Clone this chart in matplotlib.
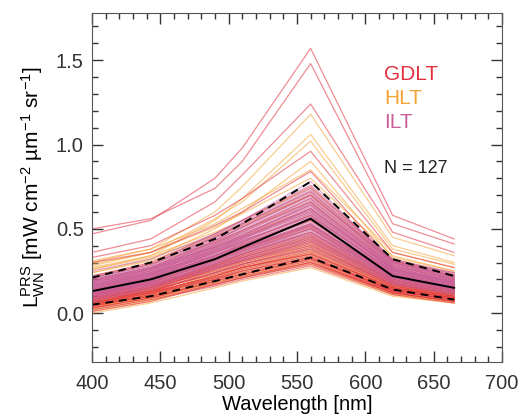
import numpy as np
import matplotlib
matplotlib.use('Agg')
import matplotlib.pyplot as plt
from matplotlib.ticker import MultipleLocator

# ---------------------------------- data ----------------------------------- #
wavelength = [400, 443, 490, 510, 560, 620, 665]

# GDLT spectra (red)
gdlt = [
    [0.47, 0.55, 0.80, 0.98, 1.57, 0.58, 0.44],
    [0.50, 0.56, 0.74, 0.90, 1.48, 0.53, 0.41],
    [0.36, 0.44, 0.66, 0.82, 1.24, 0.48, 0.36],
    [0.33, 0.40, 0.58, 0.68, 0.96, 0.36, 0.27],
    [0.30, 0.36, 0.52, 0.60, 0.84, 0.31, 0.24],
    [0.02, 0.08, 0.16, 0.20, 0.28, 0.11, 0.06],
    [0.03, 0.09, 0.17, 0.21, 0.29, 0.12, 0.07],
    [0.05, 0.10, 0.18, 0.22, 0.30, 0.12, 0.07],
    [0.01, 0.07, 0.17, 0.21, 0.30, 0.13, 0.08],
    [0.04, 0.10, 0.19, 0.23, 0.31, 0.12, 0.07],
    [0.06, 0.12, 0.20, 0.24, 0.32, 0.13, 0.08],
    [0.03, 0.09, 0.19, 0.23, 0.32, 0.14, 0.09],
    [0.05, 0.11, 0.20, 0.25, 0.33, 0.13, 0.08],
    [0.07, 0.13, 0.21, 0.25, 0.33, 0.14, 0.09],
    [0.04, 0.11, 0.21, 0.26, 0.34, 0.14, 0.09],
    [0.06, 0.12, 0.22, 0.27, 0.35, 0.15, 0.09],
    [0.08, 0.14, 0.23, 0.27, 0.35, 0.15, 0.10],
    [0.05, 0.12, 0.22, 0.27, 0.36, 0.15, 0.10],
    [0.07, 0.13, 0.24, 0.28, 0.37, 0.16, 0.10],
    [0.09, 0.15, 0.25, 0.29, 0.38, 0.16, 0.11],
    [0.06, 0.13, 0.24, 0.29, 0.39, 0.17, 0.11],
    [0.08, 0.15, 0.26, 0.30, 0.40, 0.17, 0.11],
    [0.10, 0.16, 0.27, 0.31, 0.41, 0.17, 0.12],
    [0.07, 0.14, 0.26, 0.31, 0.42, 0.18, 0.12],
    [0.09, 0.16, 0.27, 0.32, 0.43, 0.18, 0.12],
    [0.11, 0.17, 0.28, 0.33, 0.44, 0.19, 0.13],
    [0.08, 0.15, 0.28, 0.33, 0.45, 0.19, 0.13],
    [0.10, 0.17, 0.29, 0.34, 0.46, 0.19, 0.13],
    [0.12, 0.18, 0.30, 0.35, 0.47, 0.20, 0.14],
    [0.09, 0.16, 0.29, 0.35, 0.48, 0.20, 0.14],
    [0.11, 0.18, 0.31, 0.37, 0.50, 0.21, 0.14],
    [0.13, 0.20, 0.32, 0.38, 0.51, 0.21, 0.15],
    [0.10, 0.18, 0.32, 0.38, 0.52, 0.22, 0.15],
    [0.12, 0.19, 0.33, 0.39, 0.53, 0.22, 0.15],
    [0.14, 0.21, 0.34, 0.40, 0.55, 0.23, 0.16],
    [0.11, 0.19, 0.34, 0.41, 0.56, 0.23, 0.16],
    [0.13, 0.21, 0.36, 0.42, 0.58, 0.24, 0.17],
    [0.15, 0.23, 0.37, 0.44, 0.60, 0.25, 0.17],
    [0.14, 0.22, 0.38, 0.45, 0.62, 0.26, 0.18],
    [0.16, 0.24, 0.39, 0.46, 0.64, 0.26, 0.18],
    [0.17, 0.25, 0.40, 0.48, 0.66, 0.27, 0.19],
    [0.18, 0.26, 0.42, 0.49, 0.68, 0.28, 0.20],
    [0.19, 0.27, 0.43, 0.51, 0.70, 0.29, 0.20],
    [0.21, 0.29, 0.45, 0.53, 0.72, 0.30, 0.21],
    [0.22, 0.30, 0.47, 0.55, 0.75, 0.31, 0.22],
]

# HLT spectra (orange)
hlt = [
    [0.30, 0.38, 0.60, 0.75, 1.18, 0.45, 0.34],
    [0.26, 0.34, 0.55, 0.68, 1.06, 0.40, 0.30],
    [0.28, 0.36, 0.56, 0.66, 1.02, 0.38, 0.29],
    [0.24, 0.32, 0.50, 0.60, 0.90, 0.33, 0.25],
    [0.00, 0.06, 0.15, 0.19, 0.27, 0.10, 0.06],
    [0.02, 0.08, 0.17, 0.21, 0.29, 0.11, 0.06],
    [0.04, 0.09, 0.18, 0.22, 0.30, 0.11, 0.07],
    [0.01, 0.07, 0.18, 0.22, 0.31, 0.12, 0.07],
    [0.03, 0.09, 0.19, 0.23, 0.32, 0.12, 0.07],
    [0.05, 0.10, 0.20, 0.24, 0.33, 0.13, 0.08],
    [0.02, 0.08, 0.20, 0.25, 0.34, 0.13, 0.08],
    [0.04, 0.10, 0.21, 0.26, 0.35, 0.14, 0.08],
    [0.06, 0.12, 0.22, 0.27, 0.36, 0.14, 0.09],
    [0.03, 0.10, 0.22, 0.27, 0.37, 0.15, 0.09],
    [0.05, 0.11, 0.23, 0.28, 0.38, 0.15, 0.09],
    [0.07, 0.13, 0.24, 0.29, 0.39, 0.16, 0.10],
    [0.04, 0.11, 0.24, 0.29, 0.40, 0.16, 0.10],
    [0.06, 0.13, 0.25, 0.30, 0.41, 0.16, 0.10],
    [0.08, 0.14, 0.26, 0.31, 0.42, 0.17, 0.11],
    [0.05, 0.12, 0.26, 0.31, 0.43, 0.17, 0.11],
    [0.07, 0.14, 0.27, 0.32, 0.44, 0.18, 0.11],
    [0.09, 0.15, 0.28, 0.33, 0.45, 0.18, 0.12],
    [0.06, 0.13, 0.28, 0.34, 0.46, 0.19, 0.12],
    [0.08, 0.15, 0.29, 0.35, 0.48, 0.19, 0.13],
    [0.10, 0.17, 0.31, 0.37, 0.50, 0.20, 0.13],
    [0.12, 0.19, 0.32, 0.38, 0.52, 0.21, 0.14],
    [0.14, 0.21, 0.34, 0.40, 0.55, 0.22, 0.15],
    [0.16, 0.23, 0.36, 0.42, 0.58, 0.24, 0.16],
    [0.20, 0.27, 0.39, 0.46, 0.62, 0.26, 0.18],
    [0.22, 0.29, 0.42, 0.49, 0.66, 0.28, 0.20],
    [0.24, 0.31, 0.45, 0.52, 0.70, 0.30, 0.21],
    [0.27, 0.34, 0.48, 0.55, 0.74, 0.32, 0.23],
    [0.29, 0.36, 0.51, 0.59, 0.80, 0.34, 0.25],
    [0.31, 0.38, 0.53, 0.62, 0.85, 0.36, 0.27],
    [0.26, 0.33, 0.46, 0.53, 0.70, 0.31, 0.22],
]

# ILT spectra (pink)
ilt = [
    [0.25, 0.32, 0.47, 0.55, 0.78, 0.30, 0.22],
    [0.07, 0.14, 0.24, 0.29, 0.38, 0.17, 0.11],
    [0.09, 0.16, 0.26, 0.31, 0.40, 0.18, 0.12],
    [0.10, 0.17, 0.27, 0.32, 0.42, 0.18, 0.12],
    [0.08, 0.15, 0.27, 0.32, 0.43, 0.19, 0.13],
    [0.11, 0.18, 0.28, 0.33, 0.44, 0.19, 0.13],
    [0.12, 0.19, 0.29, 0.34, 0.45, 0.20, 0.14],
    [0.10, 0.17, 0.29, 0.35, 0.46, 0.20, 0.14],
    [0.12, 0.19, 0.30, 0.36, 0.47, 0.21, 0.14],
    [0.13, 0.20, 0.31, 0.36, 0.48, 0.21, 0.15],
    [0.11, 0.18, 0.31, 0.37, 0.49, 0.21, 0.15],
    [0.13, 0.20, 0.32, 0.38, 0.50, 0.22, 0.15],
    [0.14, 0.21, 0.33, 0.38, 0.51, 0.22, 0.15],
    [0.12, 0.19, 0.33, 0.39, 0.52, 0.23, 0.16],
    [0.14, 0.21, 0.34, 0.40, 0.53, 0.23, 0.16],
    [0.15, 0.22, 0.35, 0.41, 0.54, 0.23, 0.16],
    [0.13, 0.20, 0.34, 0.41, 0.55, 0.24, 0.17],
    [0.15, 0.22, 0.36, 0.42, 0.56, 0.24, 0.17],
    [0.16, 0.23, 0.36, 0.43, 0.57, 0.25, 0.17],
    [0.14, 0.21, 0.36, 0.43, 0.58, 0.25, 0.18],
    [0.16, 0.23, 0.37, 0.44, 0.59, 0.25, 0.18],
    [0.17, 0.24, 0.38, 0.45, 0.60, 0.26, 0.18],
    [0.15, 0.22, 0.38, 0.45, 0.61, 0.26, 0.19],
    [0.17, 0.24, 0.39, 0.46, 0.62, 0.27, 0.19],
    [0.18, 0.25, 0.40, 0.47, 0.63, 0.27, 0.19],
    [0.16, 0.23, 0.40, 0.47, 0.64, 0.28, 0.20],
    [0.18, 0.25, 0.41, 0.48, 0.65, 0.28, 0.20],
    [0.19, 0.26, 0.41, 0.49, 0.66, 0.28, 0.20],
    [0.17, 0.24, 0.41, 0.49, 0.67, 0.29, 0.21],
    [0.19, 0.26, 0.42, 0.50, 0.68, 0.29, 0.21],
    [0.20, 0.27, 0.43, 0.51, 0.69, 0.30, 0.21],
    [0.18, 0.25, 0.43, 0.51, 0.70, 0.30, 0.22],
    [0.20, 0.27, 0.44, 0.52, 0.71, 0.30, 0.22],
    [0.21, 0.28, 0.45, 0.53, 0.72, 0.31, 0.22],
    [0.19, 0.26, 0.45, 0.53, 0.73, 0.31, 0.23],
    [0.21, 0.28, 0.46, 0.54, 0.74, 0.32, 0.23],
    [0.22, 0.29, 0.47, 0.55, 0.76, 0.32, 0.24],
    [0.09, 0.16, 0.30, 0.36, 0.50, 0.21, 0.14],
    [0.11, 0.18, 0.32, 0.38, 0.53, 0.22, 0.15],
    [0.12, 0.19, 0.34, 0.40, 0.56, 0.23, 0.16],
    [0.13, 0.20, 0.35, 0.42, 0.59, 0.24, 0.17],
    [0.14, 0.21, 0.37, 0.44, 0.62, 0.26, 0.18],
    [0.16, 0.23, 0.39, 0.46, 0.65, 0.27, 0.19],
    [0.15, 0.22, 0.32, 0.37, 0.48, 0.22, 0.15],
    [0.17, 0.24, 0.34, 0.39, 0.52, 0.23, 0.16],
    [0.19, 0.26, 0.37, 0.43, 0.57, 0.25, 0.18],
    [0.20, 0.27, 0.39, 0.45, 0.61, 0.26, 0.19],
]

mean_spec = [0.13, 0.20, 0.32, 0.39, 0.56, 0.22, 0.15]
upper_spec = [0.21, 0.30, 0.44, 0.53, 0.78, 0.32, 0.22]
lower_spec = [0.05, 0.10, 0.19, 0.23, 0.33, 0.14, 0.08]

colors = {'GDLT': '#e2303f', 'HLT': '#f5a236', 'ILT': '#c8609c'}

#-------------------------------------------------plot--------------------------------------------------------#
plt.rcParams['font.family'] = ['Liberation Sans', 'DejaVu Sans']
plt.rcParams['mathtext.default'] = 'regular'

fig = plt.figure(figsize=(5.18, 4.17), dpi=100)
ax = fig.add_axes([0.1776, 0.1319, 0.7914, 0.8369])

# draw order: HLT, GDLT, then ILT on top
for name, spectra in [('HLT', hlt), ('GDLT', gdlt), ('ILT', ilt)]:
    for spec in spectra:
        ax.plot(wavelength, spec, color=colors[name], lw=0.9, alpha=0.55)

ax.plot(wavelength, mean_spec, color='k', lw=1.4)
ax.plot(wavelength, upper_spec, color='k', lw=1.4, ls=(0, (4, 3)))
ax.plot(wavelength, lower_spec, color='k', lw=1.4, ls=(0, (4, 3)))

ax.text(614, 1.417, 'GDLT', color=colors['GDLT'], fontsize=15, va='center')
ax.text(614, 1.275, 'HLT', color=colors['HLT'], fontsize=15, va='center')
ax.text(614, 1.133, 'ILT', color=colors['ILT'], fontsize=15, va='center')
ax.text(614, 0.86, 'N = 127', color='#222222', fontsize=13, va='center')

ax.set_xlim(400, 700)
ax.set_ylim(-0.29, 1.78)
ax.xaxis.set_major_locator(MultipleLocator(50))
ax.xaxis.set_minor_locator(MultipleLocator(10))
ax.yaxis.set_major_locator(MultipleLocator(0.5))
ax.yaxis.set_minor_locator(MultipleLocator(0.1))
ax.yaxis.set_major_formatter(matplotlib.ticker.FormatStrFormatter('%.1f'))
ax.tick_params(which='both', direction='in', top=True, right=True, labelsize=14.5, colors='#333333')
ax.tick_params(which='major', length=8, width=1)
ax.tick_params(which='minor', length=4, width=1)
ax.tick_params(axis='x', which='major', pad=9)
ax.tick_params(axis='y', which='major', pad=6)
for sp in ax.spines.values():
    sp.set_color('#555555')

ax.set_xlabel('Wavelength [nm]', fontsize=14.5, labelpad=1)
ax.set_ylabel(r'$L_{WN}^{PRS}$ [mW cm$^{-2}$ µm$^{-1}$ sr$^{-1}$]', fontsize=15, labelpad=6)

plt.savefig('out.png', dpi=100)
